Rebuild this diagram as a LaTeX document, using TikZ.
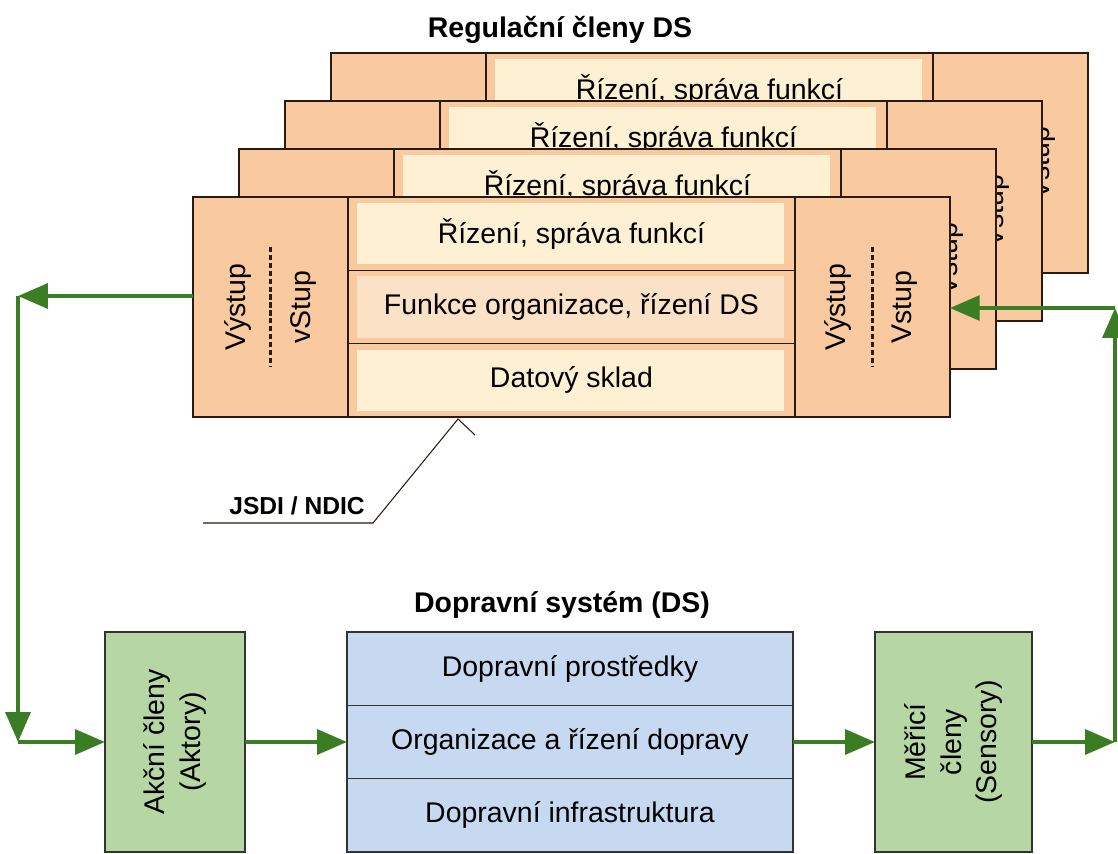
\documentclass[tikz,border=0pt]{standalone}
\usepackage{fontspec}
\setmainfont{Liberation Sans}
\usepackage{tikz}
\usetikzlibrary{positioning, arrows.meta}

\definecolor{peach}{HTML}{F9C99F}
\definecolor{cream}{HTML}{FEF1D3}
\definecolor{blush}{HTML}{FBE2C6}
\definecolor{edgecol}{HTML}{2B1A10}
\definecolor{memgreen}{HTML}{B6D7A4}
\definecolor{dsblue}{HTML}{C6D9F1}
\definecolor{boxedge}{HTML}{333333}
\definecolor{flowgreen}{HTML}{3A7D24}

\begin{document}
\begin{tikzpicture}[
    x=0.02cm, y=-0.02cm,
    font=\fontsize{16.2}{20}\selectfont,
    panel/.style={draw=edgecol, line width=1.2pt, fill=peach, minimum width=3.1cm, minimum height=4.4cm, inner sep=0pt, outer sep=0pt},
    row/.style={draw=edgecol, line width=0.6pt, fill=peach, minimum width=8.94cm, minimum height=1.4667cm, inner sep=0pt, outer sep=0pt,
        path picture={\fill[#1] ([shift={(5pt,-3.4pt)}]path picture bounding box.north west) rectangle ([shift={(-6.2pt,3.4pt)}]path picture bounding box.south east);}},
    row/.default=cream,
    cardline/.style={draw=edgecol, line width=1.5pt},
    sep/.style={draw=edgecol, line width=1.5pt, dash pattern=on 3pt off 1.5pt},
    vtext/.style={rotate=90, inner sep=0pt, align=center},
    title/.style={font=\bfseries\fontsize{16.2}{20}\selectfont},
    layer/.style={draw=boxedge, line width=0.7pt, fill=dsblue, minimum width=8.92cm, minimum height=1.4667cm, inner sep=0pt, outer sep=0pt},
    member/.style={draw=boxedge, line width=1.2pt, fill=memgreen, minimum height=4.4cm, inner sep=0pt, outer sep=0pt},
    flow/.style={-{Triangle[length=17pt, width=14pt]}, line width=2.5pt, draw=flowgreen, fill=flowgreen}
]
    \useasboundingbox (0,0) rectangle (1118,853);

    % Regulation members (stack of cards)
    \node[title] (regtitle) at (560,30) {Regulační členy DS};
    \foreach \i in {3,2,1,0}{
        \begin{scope}[shift={(46*\i,-48*\i)}]
            \node[panel, anchor=north west] (in\i) at (193,197) {};
            \node[row, anchor=north west] (top\i) at (in\i.north east) {Řízení, správa funkcí};
            \node[row=blush, below=0pt of top\i] (mid\i) {Funkce organizace, řízení DS};
            \node[row, below=0pt of mid\i] (low\i) {Datový sklad};
            \node[panel, anchor=north west] (out\i) at (top\i.north east) {};
            \draw[cardline] (in\i.north west) rectangle (out\i.south east);
            % input / output
            \node[vtext] at ([xshift=-0.66cm]in\i.center) {Výstup};
            \node[vtext] at ([xshift=0.66cm]in\i.center) {vStup};
            \draw[sep] ([yshift=1.2cm]in\i.center) -- ([yshift=-1.2cm]in\i.center);
            \node[vtext] at ([xshift=-0.68cm]out\i.center) {Výstup};
            \node[vtext] at ([xshift=0.64cm]out\i.center) {Vstup};
            \draw[sep] ([yshift=1.2cm]out\i.center) -- ([yshift=-1.2cm]out\i.center);
        \end{scope}
    }

    % JSDI pointer
    \node[font=\bfseries\fontsize{14}{17}\selectfont] (jsdi) at (297,506) {JSDI / NDIC};
    \coordinate (tip) at (458,419);
    \draw[edgecol, line width=0.6pt] (203,523) -- (373,523) -- (tip) -- (475,435);

    % Transport system
    \node[title] (dstitle) at (562,605) {Dopravní systém (DS)};
    \node[member, minimum width=2.8cm, anchor=north west] (akce) at (105,632) {};
    \node[vtext] at (akce) {Akční členy\\(Aktory)};
    \node[layer, anchor=north west] (prostr) at (347,632) {Dopravní prostředky};
    \node[layer, below=0pt of prostr] (organ) {Organizace a řízení dopravy};
    \node[layer, below=0pt of organ] (infra) {Dopravní infrastruktura};
    \draw[draw=boxedge, line width=1.2pt] (prostr.north west) rectangle (infra.south east);
    \node[member, minimum width=3.14cm, anchor=north west] (meric) at (875,632) {};
    \node[vtext] at (meric) {Měřicí\\členy\\(Sensory)};

    % Feedback loop
    \coordinate (leftup) at (18,296);
    \coordinate (leftdown) at (akce.west -| leftup);
    \coordinate (rightup) at (1115,308);
    \coordinate (rightdown) at (meric.east -| rightup);
    \draw[flow] (in0.west |- leftup) -- (leftup);
    \draw[flow] (leftup) -- (leftdown);
    \draw[flow] (leftdown) -- (akce.west);
    \draw[flow] (akce.east) -- (akce.east -| organ.west);
    \draw[flow] (organ.east) -- (organ.east -| meric.west);
    \draw[flow] (meric.east) -- (rightdown);
    \draw[flow] (rightdown) -- (rightup);
    \draw[flow] (rightup) -- (out0.east |- rightup);
\end{tikzpicture}
\end{document}
